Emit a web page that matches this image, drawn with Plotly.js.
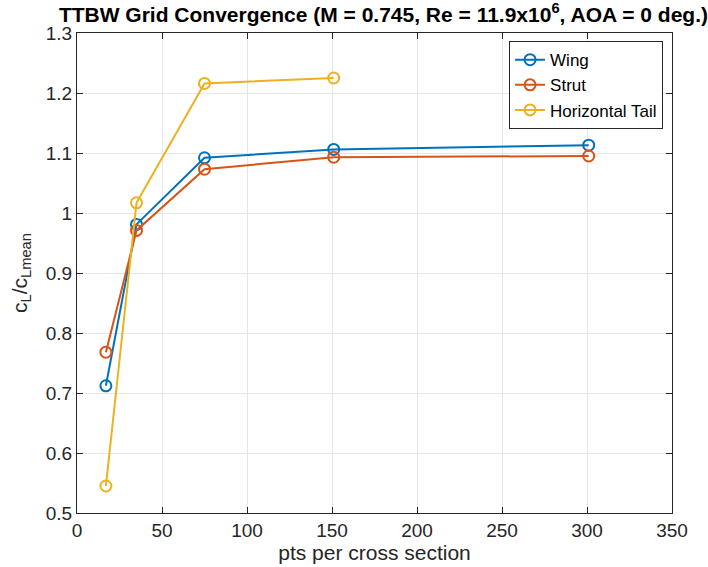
<!DOCTYPE html>
<html>
<head>
<meta charset="utf-8">
<script src="https://cdn.plot.ly/plotly-3.0.1.min.js"></script>
<style>html,body{margin:0;padding:0;background:#fff}#chart{width:708px;height:567px}</style>
</head>
<body>
<div id="chart"></div>
<script>
const ptsPerSection = [17, 35, 75, 151, 301];
const wingCl = [0.712, 0.981, 1.092, 1.106, 1.113];
const strutCl = [0.768, 0.971, 1.073, 1.093, 1.095];
const tailPts = [17, 35, 75, 151];
const tailCl = [0.545, 1.017, 1.216, 1.225];
const seriesNames = ['Wing', 'Strut', 'Horizontal Tail'];
const xTickVals = [0, 50, 100, 150, 200, 250, 300, 350];
const xTickText = ['0', '50', '100', '150', '200', '250', '300', '350'];
const yTickVals = [0.5, 0.6, 0.7, 0.8, 0.9, 1.0, 1.1, 1.2, 1.3];
const yTickText = ['0.5', '0.6', '0.7', '0.8', '0.9', '1', '1.1', '1.2', '1.3'];

const colors = ['#0072BD', '#D95319', '#EDB120'];
function tr(x, y, i) {
  return {
    x: x, y: y, name: seriesNames[i], type: 'scatter', mode: 'lines+markers',
    line: {color: colors[i], width: 2},
    marker: {symbol: 'circle-open', size: 11, color: colors[i], line: {width: 2, color: colors[i]}}
  };
}
const data = [tr(ptsPerSection, wingCl, 0), tr(ptsPerSection, strutCl, 1), tr(tailPts, tailCl, 2)];
const fam = 'Liberation Sans, Arial, Helvetica, sans-serif';
const axisCommon = {
  showline: true, linecolor: '#262626', linewidth: 1, mirror: 'ticks',
  ticks: 'inside', ticklen: 6, tickcolor: '#262626', tickwidth: 1,
  showgrid: true, gridcolor: '#e6e6e6', gridwidth: 1, zeroline: false,
  automargin: false,
  tickfont: {family: fam, size: 19, color: '#262626'}
};
const layout = {
  width: 708, height: 567,
  margin: {l: 77, r: 36, t: 33, b: 54},
  paper_bgcolor: '#ffffff', plot_bgcolor: '#ffffff',
  font: {family: fam, color: '#262626'},
  title: {
    text: '<b>TTBW Grid Convergence (M = 0.745, Re = 11.9x10<sup>6</sup>, AOA = 0 deg.)</b>',
    font: {family: fam, size: 21, color: '#000000'},
    xref: 'paper', x: 0.515, xanchor: 'center', yref: 'container', y: 0.975, yanchor: 'middle'
  },
  xaxis: Object.assign({}, axisCommon, {
    range: [0, 350], tickmode: 'array', tickvals: xTickVals, ticktext: xTickText,
    title: {text: 'pts per cross section', font: {family: fam, size: 21, color: '#262626'}, standoff: 2}
  }),
  yaxis: Object.assign({}, axisCommon, {
    range: [0.5, 1.3], tickmode: 'array', tickvals: yTickVals, ticktext: yTickText,
    title: {text: 'c<sub>L</sub>/c<sub>Lmean</sub>', font: {family: fam, size: 21, color: '#262626'}, standoff: 12}
  }),
  showlegend: true,
  legend: {
    x: 0.985, xanchor: 'right', y: 0.983, yanchor: 'top',
    bgcolor: '#ffffff', bordercolor: '#262626', borderwidth: 1,
    font: {family: fam, size: 17, color: '#000000'}, tracegroupgap: 0
  }
};
Plotly.newPlot('chart', data, layout, {displayModeBar: false, staticPlot: true});
</script>
</body>
</html>
